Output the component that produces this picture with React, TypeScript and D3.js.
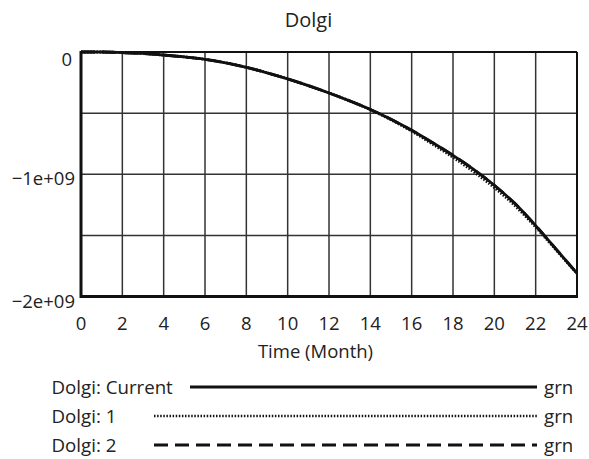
import React from "react";
import * as d3 from "d3";

const months = [0,1,2,3,4,5,6,7,8,9,10,11,12,13,14,15,16,17,18,19,20,21,22,23,24];
const current = [0,0,-0.005e9,-0.012e9,-0.025e9,-0.04e9,-0.06e9,-0.088e9,-0.125e9,-0.17e9,-0.22e9,-0.275e9,-0.335e9,-0.4e9,-0.47e9,-0.55e9,-0.64e9,-0.74e9,-0.845e9,-0.96e9,-1.09e9,-1.24e9,-1.42e9,-1.615e9,-1.81e9];
const run1 = [0,0,-0.005e9,-0.012e9,-0.025e9,-0.04e9,-0.06e9,-0.088e9,-0.125e9,-0.17e9,-0.22e9,-0.275e9,-0.335e9,-0.4e9,-0.472e9,-0.555e9,-0.648e9,-0.753e9,-0.862e9,-0.98e9,-1.11e9,-1.258e9,-1.433e9,-1.622e9,-1.812e9];
const run2 = [0,0,-0.005e9,-0.012e9,-0.025e9,-0.04e9,-0.06e9,-0.088e9,-0.125e9,-0.17e9,-0.22e9,-0.275e9,-0.335e9,-0.4e9,-0.47e9,-0.55e9,-0.64e9,-0.74e9,-0.845e9,-0.96e9,-1.09e9,-1.24e9,-1.42e9,-1.615e9,-1.81e9];
const xTicks = [0,2,4,6,8,10,12,14,16,18,20,22,24];
const yTicks = [0,-0.5e9,-1e9,-1.5e9,-2e9];
const yLabels = ["0","","\u22121e+09","","\u22122e+09"];
const legendNames = ["Dolgi: Current","Dolgi: 1","Dolgi: 2"];
const legendUnits = ["grn","grn","grn"];
const dashes = ["none","1.5,1.6","14,7"];
const seriesList = [current, run1, run2];

export default function App() {
  const W = 589, H = 459;
  const L = 81, R = 577, T = 52, B = 296.5;
  const x = d3.scaleLinear().domain([0, 24]).range([L, R]);
  const y = d3.scaleLinear().domain([-2e9, 0]).range([B, T]);
  const font = "'Open Sans', 'Noto Sans', sans-serif";
  const line = (vals: number[]) =>
    d3.line<number>().x((_, i) => x(months[i])).y((v) => y(v)).curve(d3.curveMonotoneX)(vals) || "";
  const legendY = [387, 416, 445];
  const legendX0 = [190, 154, 154];
  return (
    <svg width={W} height={H} style={{ position: "absolute", left: 0, top: 0, background: "#fff" }} fontFamily={font}>
      <text x={308.5} y={27} textAnchor="middle" fontSize={20} fill="#222">Dolgi</text>
      {xTicks.map((t) => (
        <line key={"gx" + t} x1={x(t)} x2={x(t)} y1={T} y2={B} stroke="#333" strokeWidth={1.5} />
      ))}
      {yTicks.map((t) => (
        <line key={"gy" + t} x1={L} x2={R} y1={y(t)} y2={y(t)} stroke="#333" strokeWidth={1.5} />
      ))}
      <line x1={L} x2={R} y1={T} y2={T} stroke="#111" strokeWidth={2} />
      <line x1={R} x2={R} y1={T} y2={B} stroke="#111" strokeWidth={2} />
      <line x1={L} x2={L} y1={T - 1} y2={B + 1.5} stroke="#111" strokeWidth={3} />
      <line x1={L} x2={R + 1} y1={B} y2={B} stroke="#111" strokeWidth={3} />
      {seriesList.map((s, i) => (
        <path key={"s" + i} d={line(s)} fill="none" stroke="#111" strokeWidth={2.8} strokeDasharray={dashes[i]} />
      ))}
      {yTicks.map((t, i) => (
        <text key={"yl" + i} x={t === 0 ? 72 : 75} y={t === 0 ? 66 : y(t) + 11} textAnchor="end" fontSize={18.5} fill="#222">{yLabels[i]}</text>
      ))}
      {xTicks.map((t) => (
        <text key={"xl" + t} x={x(t)} y={330} textAnchor="middle" fontSize={18.5} fill="#222">{t}</text>
      ))}
      <text x={315.5} y={358} textAnchor="middle" fontSize={18.5} fill="#222">Time (Month)</text>
      {legendNames.map((n, i) => (
        <g key={"lg" + i}>
          <text x={51.5} y={legendY[i] + 7} fontSize={18.7} fill="#222">{n}</text>
          <line x1={legendX0[i]} x2={537} y1={legendY[i]} y2={legendY[i]} stroke="#111" strokeWidth={i === 1 ? 2.6 : 2.8} strokeDasharray={dashes[i]} />
          <text x={544} y={legendY[i] + 7} fontSize={18.7} fill="#222">{legendUnits[i]}</text>
        </g>
      ))}
    </svg>
  );
}
